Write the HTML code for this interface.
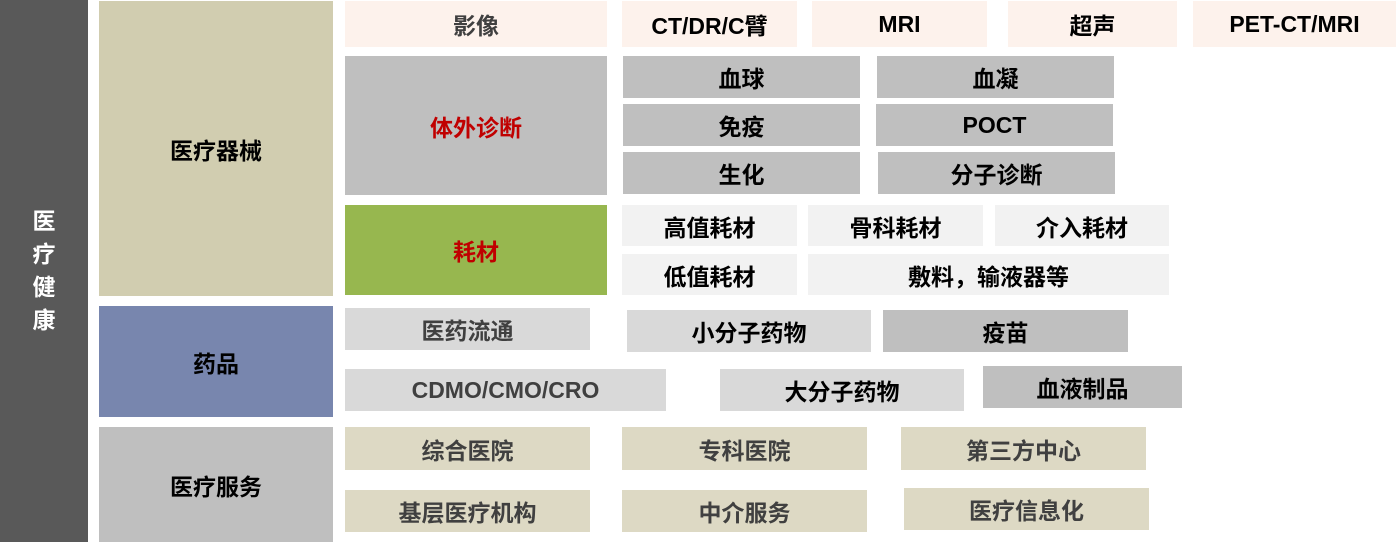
<!DOCTYPE html><html><head><meta charset="utf-8"><style>
body{margin:0;width:1396px;height:542px;background:#fff;position:relative;overflow:hidden;font-family:"Liberation Sans","Noto Sans CJK SC",sans-serif;font-weight:bold}
.b{position:absolute;display:flex;align-items:center;justify-content:center;font-size:23px;color:#000}
</style></head><body>
<div class="b" style="left:0;top:0;width:88px;height:542px;background:#595959;color:#fff;flex-direction:column;font-size:23px;line-height:33px">医<br>疗<br>健<br>康</div>
<div class="b" style="left:99px;top:1px;width:234px;height:295px;background:#D1CDB0">医疗器械</div>
<div class="b" style="left:99px;top:306px;width:234px;height:111px;background:#7886AE">药品</div>
<div class="b" style="left:99px;top:427px;width:234px;height:115px;background:#BFBFBF">医疗服务</div>

<div class="b" style="left:345px;top:1px;width:262px;height:46px;background:#FDF2EC;color:#404040">影像</div>
<div class="b" style="left:622px;top:1px;width:175px;height:46px;background:#FDF2EC">CT/DR/C臂</div>
<div class="b" style="left:812px;top:1px;width:175px;height:46px;background:#FDF2EC">MRI</div>
<div class="b" style="left:1008px;top:1px;width:169px;height:46px;background:#FDF2EC">超声</div>
<div class="b" style="left:1193px;top:1px;width:203px;height:46px;background:#FDF2EC">PET-CT/MRI</div>

<div class="b" style="left:345px;top:56px;width:262px;height:139px;background:#BFBFBF;color:#C00000">体外诊断</div>
<div class="b" style="left:623px;top:56px;width:237px;height:42px;background:#BFBFBF">血球</div>
<div class="b" style="left:877px;top:56px;width:237px;height:42px;background:#BFBFBF">血凝</div>
<div class="b" style="left:623px;top:104px;width:237px;height:42px;background:#BFBFBF">免疫</div>
<div class="b" style="left:876px;top:104px;width:237px;height:42px;background:#BFBFBF">POCT</div>
<div class="b" style="left:623px;top:152px;width:237px;height:42px;background:#BFBFBF">生化</div>
<div class="b" style="left:878px;top:152px;width:237px;height:42px;background:#BFBFBF">分子诊断</div>

<div class="b" style="left:345px;top:205px;width:262px;height:90px;background:#97B74F;color:#C00000">耗材</div>
<div class="b" style="left:622px;top:205px;width:175px;height:41px;background:#F2F2F2">高值耗材</div>
<div class="b" style="left:808px;top:205px;width:175px;height:41px;background:#F2F2F2">骨科耗材</div>
<div class="b" style="left:995px;top:205px;width:174px;height:41px;background:#F2F2F2">介入耗材</div>
<div class="b" style="left:622px;top:254px;width:175px;height:41px;background:#F2F2F2">低值耗材</div>
<div class="b" style="left:808px;top:254px;width:361px;height:41px;background:#F2F2F2">敷料，输液器等</div>

<div class="b" style="left:345px;top:308px;width:245px;height:42px;background:#D9D9D9;color:#404040">医药流通</div>
<div class="b" style="left:627px;top:310px;width:244px;height:42px;background:#D9D9D9">小分子药物</div>
<div class="b" style="left:883px;top:310px;width:245px;height:42px;background:#BFBFBF">疫苗</div>
<div class="b" style="left:345px;top:369px;width:321px;height:42px;background:#D9D9D9;color:#404040">CDMO/CMO/CRO</div>
<div class="b" style="left:720px;top:369px;width:244px;height:42px;background:#D9D9D9">大分子药物</div>
<div class="b" style="left:983px;top:366px;width:199px;height:42px;background:#BFBFBF">血液制品</div>

<div class="b" style="left:345px;top:427px;width:245px;height:43px;background:#DDD9C4;color:#404040">综合医院</div>
<div class="b" style="left:622px;top:427px;width:245px;height:43px;background:#DDD9C4;color:#404040">专科医院</div>
<div class="b" style="left:901px;top:427px;width:245px;height:43px;background:#DDD9C4;color:#404040">第三方中心</div>
<div class="b" style="left:345px;top:490px;width:245px;height:42px;background:#DDD9C4;color:#404040">基层医疗机构</div>
<div class="b" style="left:622px;top:490px;width:245px;height:42px;background:#DDD9C4;color:#404040">中介服务</div>
<div class="b" style="left:904px;top:488px;width:245px;height:42px;background:#DDD9C4;color:#404040">医疗信息化</div>
</body></html>
